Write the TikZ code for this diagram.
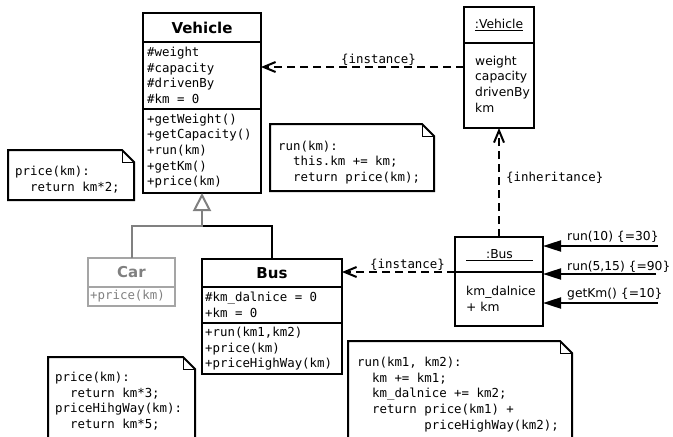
\documentclass[tikz,border=0pt]{standalone}
\usepackage{fontspec}
\setmainfont{DejaVu Sans}
\setmonofont{DejaVu Sans Mono}
\usetikzlibrary{arrows.meta,calc}
\definecolor{cargray}{RGB}{128,128,128}
\definecolor{carline}{RGB}{165,165,165}
\begin{document}
\begin{tikzpicture}[x=1pt,y=-1pt,
  clsbox/.style={draw,line width=2pt,anchor=north west,inner sep=0pt,outer sep=0pt},
  carbox/.style={draw=carline,line width=1.3pt,anchor=north west,inner sep=0pt,outer sep=0pt},
  mono/.style={font=\fontsize{12.4}{15.6}\selectfont\ttfamily,inner sep=0pt,anchor=west,align=left},
  sans/.style={font=\fontsize{12.3}{15.7}\selectfont,inner sep=0pt,anchor=west,align=left},
  title/.style={font=\fontsize{15}{18}\selectfont\bfseries,inner sep=0pt},
  notebox/.style={anchor=north west,inner sep=0pt,outer sep=0pt},
  noteline/.style={line width=2pt,line join=miter},
  foldline/.style={line width=1pt},
  dep/.style={line width=2pt,dash pattern=on 8pt off 5pt,-{Straight Barb[length=12pt,width=10pt,line width=2pt]}},
  msg/.style={line width=2pt,-{Triangle[length=18pt,width=11pt]}},
  gen/.style={line width=2pt,draw=cargray,-{Triangle[open,length=18pt,width=18pt,fill=white]}},
  genblack/.style={line width=2pt},
]
\useasboundingbox (0,0) rectangle (673,437);
\clip (0,0) rectangle (673,437);

% ---- Vehicle class
\node[clsbox,minimum width=118pt,minimum height=29pt] (vehH) at (143,13) {};
\node[clsbox,minimum width=118pt,minimum height=67pt] (vehA) at (143,42) {};
\node[clsbox,minimum width=118pt,minimum height=84pt] (vehM) at (143,109) {};
\node[title] (vehT) at (vehH.center) {Vehicle};
\node[mono] (vehAt) at (147,75.5) {\#weight\\\#capacity\\\#drivenBy\\\#km = 0};
\node[mono] (vehMt) at (147,151) {+getWeight()\\+getCapacity()\\+run(km)\\+getKm()\\+price(km)};

% ---- :Vehicle object
\node[clsbox,minimum width=70pt,minimum height=36pt] (ovH) at (464,7) {};
\node[clsbox,minimum width=70pt,minimum height=85pt] (ovB) at (464,43) {};
\node[sans,anchor=center] (ovHt) at (ovH.center) {\underline{:Vehicle}};
\node[sans] (ovBt) at (475,84) {weight\\capacity\\drivenBy\\km};

% ---- Car class
\node[carbox,minimum width=87pt,minimum height=29pt] (carH) at (88,258) {};
\node[carbox,minimum width=87pt,minimum height=19pt] (carM) at (88,287) {};
\node[title,text=cargray] (carT) at (carH.center) {Car};
\node[mono,text=cargray] (carMt) at (90,296.5) {+price(km)};

% ---- Bus class
\node[clsbox,minimum width=140pt,minimum height=28pt] (busH) at (202,259) {};
\node[clsbox,minimum width=140pt,minimum height=36pt] (busA) at (202,287) {};
\node[clsbox,minimum width=140pt,minimum height=51pt] (busM) at (202,323) {};
\node[title] (busT) at (busH.center) {Bus};
\node[mono] (busAt) at (205,305) {\#km\_dalnice = 0\\+km = 0};
\node[mono] (busMt) at (205,349) {+run(km1,km2)\\+price(km)\\+priceHighWay(km)};

% ---- :Bus object
\node[clsbox,minimum width=88pt,minimum height=35pt] (obH) at (455,237) {};
\node[clsbox,minimum width=88pt,minimum height=54pt] (obB) at (455,272) {};
\node[sans,anchor=base] (obHt) at (499.5,258.5) {\underline{\makebox[67pt]{:Bus}}};
\node[sans] (obBt) at (466,298.5) {km\_dalnice\\+ km};

% ---- notes
\node[notebox,minimum width=126pt,minimum height=50pt] (nL) at (8,150) {};
\draw[noteline] (nL.south west) -- (nL.north west) -- ($(nL.north east)+(-12,0)$) -- ($(nL.north east)+(0,12)$) -- (nL.south east) -- cycle;
\draw[foldline] ($(nL.north east)+(-12,0)$) |- ($(nL.north east)+(0,12)$);
\node[mono] (nLt) at (15,179.5) {price(km):\\\phantom{xx}return km*2;};

\node[notebox,minimum width=164pt,minimum height=67pt] (nM) at (270,124) {};
\draw[noteline] (nM.south west) -- (nM.north west) -- ($(nM.north east)+(-12,0)$) -- ($(nM.north east)+(0,12)$) -- (nM.south east) -- cycle;
\draw[foldline] ($(nM.north east)+(-12,0)$) |- ($(nM.north east)+(0,12)$);
\node[mono] (nMt) at (278,162.5) {run(km):\\\phantom{xx}this.km += km;\\\phantom{xx}return price(km);};

\node[notebox,minimum width=147pt,minimum height=100pt] (nBL) at (48,357) {};
\draw[noteline] (nBL.south west) -- (nBL.north west) -- ($(nBL.north east)+(-12,0)$) -- ($(nBL.north east)+(0,12)$) -- (nBL.south east);
\draw[foldline] ($(nBL.north east)+(-12,0)$) |- ($(nBL.north east)+(0,12)$);
\node[mono] (nBLt) at (55,401) {price(km):\\\phantom{xx}return km*3;\\priceHihgWay(km):\\\phantom{xx}return km*5;};

\node[notebox,minimum width=224pt,minimum height=115pt] (nBR) at (348,341) {};
\draw[noteline] (nBR.south west) -- (nBR.north west) -- ($(nBR.north east)+(-12,0)$) -- ($(nBR.north east)+(0,12)$) -- (nBR.south east);
\draw[foldline] ($(nBR.north east)+(-12,0)$) |- ($(nBR.north east)+(0,12)$);
\node[mono] (nBRt) at (357,394.5) {run(km1, km2):\\\phantom{xx}km += km1;\\\phantom{xx}km\_dalnice += km2;\\\phantom{xx}return price(km1) +\\\phantom{xxxxxxxxx}priceHighWay(km2);};

% ---- generalization
\coordinate (gj) at (202,226);
\draw[genblack] (busH.north) |- (gj);
\draw[gen] (carH.north) |- (gj) -- (vehM.south);

% ---- instance / inheritance dependencies
\coordinate (i1) at (464,67);
\draw[dep] (i1) -- (i1 -| vehA.east);
\node[mono] (li1) at (341,60) {\{instance\}};

\draw[dep] (obH.south west) -- (obH.south west -| busH.east);
\node[mono] (li2) at (370,265) {\{instance\}};

\draw[dep] (obH.north) -- (ovB.south);
\node[mono] (linh) at (506,178) {\{inheritance\}};

% ---- messages
\coordinate (m1) at (658,246);
\coordinate (m2) at (656,274);
\coordinate (m3) at (658,303);
\draw[msg] (m1) -- (m1 -| obH.east);
\draw[msg] (m2) -- (m2 -| obB.east);
\draw[msg] (m3) -- (m3 -| obB.east);
\node[sans,anchor=base west] (lm1) at (567,240) {run(10) \{=30\}};
\node[sans,anchor=base west] (lm2) at (567,270) {run(5,15) \{=90\}};
\node[sans,anchor=base west] (lm3) at (567,297) {getKm() \{=10\}};
\end{tikzpicture}
\end{document}
